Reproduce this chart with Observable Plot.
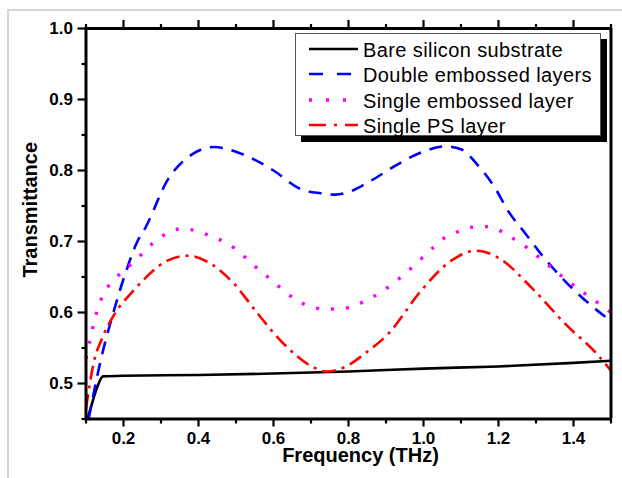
<!DOCTYPE html>
<html>
<head>
<meta charset="utf-8">
<script src="https://cdn.jsdelivr.net/npm/d3@7"></script>
<script src="https://cdn.jsdelivr.net/npm/@observablehq/plot@0.6"></script>
<style>
  html, body { margin: 0; padding: 0; background: #fff; }
  #wrap { position: relative; width: 622px; height: 478px; overflow: hidden; font-family: "Liberation Sans", Arial, sans-serif; }
  #border { position: absolute; left: 7px; top: 9px; right: -10px; bottom: -10px; border-left: 2px solid #d6d6d6; border-top: 2px solid #d6d6d6; }
  #chart { position: absolute; left: 0; top: 0; }
  #legend { position: absolute; left: 295px; top: 33px; width: 304px; height: 101px; background: #fff; border: 1px solid #555; box-shadow: 6px 6px 0 #000; }
  .row { position: absolute; left: 0; height: 25px; width: 304px; }
  .row svg { position: absolute; left: 12px; top: 0; }
  .row span { position: absolute; left: 67px; top: 1px; font-size: 20px; letter-spacing: 0.4px; line-height: 22px; color: #000; white-space: nowrap; }
</style>
</head>
<body>
<div id="wrap"><div id="border"></div><div id="chart"></div><div id="legend"></div></div>
<script>
// Series names
const seriesNames = ["Bare silicon substrate", "Double embossed layers", "Single embossed layer", "Single PS layer"];

// Bare silicon substrate
const freqBare = [0.104, 0.115, 0.13, 0.145, 0.2, 0.4, 0.6, 0.8, 1.0, 1.2, 1.4, 1.5];
const tBare    = [0.45, 0.47, 0.495, 0.51, 0.511, 0.512, 0.514, 0.517, 0.521, 0.524, 0.529, 0.532];

// Double embossed layers
const freqDouble = [0.107, 0.139, 0.173, 0.205, 0.237, 0.259, 0.317, 0.387, 0.44, 0.512, 0.6, 0.672, 0.725, 0.765, 0.797, 0.861, 0.923, 0.987, 1.06, 1.1, 1.144, 1.19, 1.227, 1.272, 1.317, 1.376, 1.475, 1.49];
const tDouble    = [0.45, 0.532, 0.6, 0.655, 0.7, 0.72, 0.786, 0.824, 0.833, 0.824, 0.8, 0.774, 0.768, 0.766, 0.769, 0.786, 0.806, 0.824, 0.834, 0.83, 0.808, 0.776, 0.742, 0.711, 0.68, 0.645, 0.598, 0.592];

// Single embossed layer
const freqSingle = [0.1, 0.112, 0.134, 0.152, 0.179, 0.237, 0.277, 0.357, 0.44, 0.477, 0.573, 0.69, 0.733, 0.776, 0.816, 0.893, 0.96, 1.027, 1.058, 1.088, 1.125, 1.17, 1.205, 1.24, 1.277, 1.307, 1.376, 1.482, 1.5];
const tSingle    = [0.535, 0.565, 0.61, 0.631, 0.648, 0.676, 0.697, 0.718, 0.706, 0.697, 0.655, 0.61, 0.605, 0.605, 0.61, 0.631, 0.659, 0.692, 0.706, 0.713, 0.72, 0.721, 0.715, 0.704, 0.691, 0.678, 0.648, 0.607, 0.6];

// Single PS layer
const freqPS = [0.1, 0.12, 0.144, 0.174, 0.227, 0.317, 0.37, 0.432, 0.494, 0.557, 0.627, 0.699, 0.74, 0.79, 0.843, 0.906, 0.994, 1.074, 1.141, 1.2, 1.288, 1.376, 1.467, 1.5];
const tPS    = [0.465, 0.528, 0.565, 0.596, 0.631, 0.673, 0.68, 0.669, 0.641, 0.599, 0.556, 0.525, 0.517, 0.523, 0.542, 0.57, 0.631, 0.673, 0.687, 0.677, 0.635, 0.585, 0.539, 0.518];

// Ticks
const xMajor = [0.2, 0.4, 0.6, 0.8, 1.0, 1.2, 1.4];
const xMinor = [0.1, 0.3, 0.5, 0.7, 0.9, 1.1, 1.3, 1.5];
const yMajor = [0.5, 0.6, 0.7, 0.8, 0.9, 1.0];
const yMinor = [0.45, 0.55, 0.65, 0.75, 0.85, 0.95];
const xDomain = [0.1, 1.5];
const yDomain = [0.45, 1.0];

const styles = [
  {stroke: "#000000", strokeWidth: 2.6, dash: null, legendDash: null},
  {stroke: "#0000ff", strokeWidth: 2.6, dash: "13,9", legendDash: "14,14"},
  {stroke: "#ff00ff", strokeWidth: 3.4, dash: "3,12", legendDash: "3,14"},
  {stroke: "#ff0000", strokeWidth: 2.6, dash: "14,6,3,6", legendDash: "17,8,3,8"}
];

const toRows = (xs, ys) => xs.map((x, i) => ({x, y: ys[i]}));
const series = [toRows(freqBare, tBare), toRows(freqDouble, tDouble), toRows(freqSingle, tSingle), toRows(freqPS, tPS)];

const fmt = d => d.toFixed(1);
const axisCommon = {label: null, strokeWidth: 2.2, stroke: "#000"};

const chart = Plot.plot({
  width: 622,
  height: 478,
  marginLeft: 85.5,
  marginRight: 11.5,
  marginTop: 28,
  marginBottom: 59.5,
  style: {fontFamily: "'Liberation Sans', Arial, sans-serif", fontSize: "17px", fontWeight: "bold", color: "#000", background: "transparent", overflow: "visible"},
  x: {domain: xDomain},
  y: {domain: yDomain},
  marks: [
    ...series.map((data, i) => Plot.line(data, {
      x: "x", y: "y", curve: "monotone-x",
      stroke: styles[i].stroke, strokeWidth: styles[i].strokeWidth,
      strokeDasharray: styles[i].dash, strokeLinecap: "butt"
    })),
    Plot.ruleX(xDomain, {stroke: "#000", strokeWidth: 3}),
    Plot.ruleY(yDomain, {stroke: "#000", strokeWidth: 3}),
    Plot.axisX({...axisCommon, ticks: xMinor, anchor: "bottom", tickSize: 5, tickFormat: () => ""}),
    Plot.axisX({...axisCommon, ticks: xMajor, anchor: "bottom", tickSize: 8, tickPadding: 5, tickFormat: fmt}),
    Plot.axisX({...axisCommon, ticks: xMinor, anchor: "top", tickSize: 5, tickFormat: () => ""}),
    Plot.axisX({...axisCommon, ticks: xMajor, anchor: "top", tickSize: 9, tickFormat: () => ""}),
    Plot.axisY({...axisCommon, ticks: yMinor, anchor: "left", tickSize: 4, tickFormat: () => ""}),
    Plot.axisY({...axisCommon, ticks: yMajor, anchor: "left", tickSize: 8, tickPadding: 5, tickFormat: fmt}),
    Plot.text(["Frequency (THz)"], {frameAnchor: "bottom", lineAnchor: "middle", textAnchor: "middle", dx: 12, dy: 37, fontSize: 20, fontWeight: "bold", fill: "#000"}),
    Plot.text(["Transmittance"], {frameAnchor: "left", lineAnchor: "middle", textAnchor: "middle", dx: -55.5, dy: -14, rotate: -90, fontSize: 20, fontWeight: "bold", fill: "#000"})
  ]
});
document.getElementById("chart").appendChild(chart);

// Legend
const legend = document.getElementById("legend");
seriesNames.forEach((name, i) => {
  const row = document.createElement("div");
  row.className = "row";
  row.style.top = (4 + i * 25.3) + "px";
  const s = styles[i];
  row.innerHTML = `<svg width="52" height="25"><line x1="1" x2="50" y1="11" y2="11" stroke="${s.stroke}" stroke-width="${s.strokeWidth}" ${s.legendDash ? `stroke-dasharray="${s.legendDash}"` : ""}/></svg><span></span>`;
  row.querySelector("span").textContent = name;
  legend.appendChild(row);
});
</script>
</body>
</html>
